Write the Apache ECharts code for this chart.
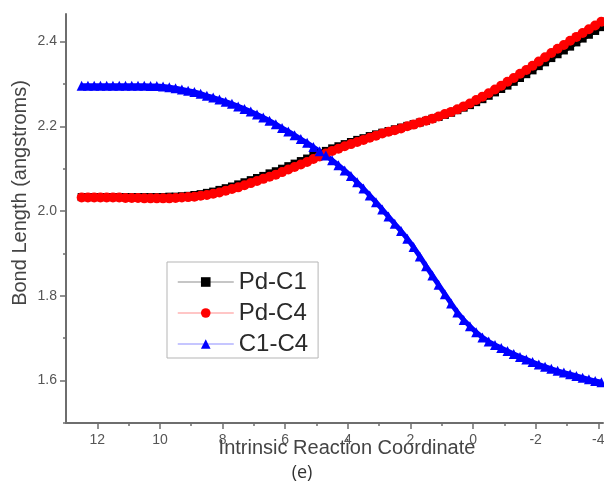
<!DOCTYPE html>
<html>
<head>
<meta charset="utf-8">
<script src="https://cdn.jsdelivr.net/npm/echarts@6/dist/echarts.min.js"></script>
<style>
  html, body { margin: 0; padding: 0; background: #ffffff; }
  #chart { width: 604px; height: 488px; }
</style>
</head>
<body>
<div id="chart"></div>
<script>
// reaction coordinate (x)
const irc = [12.5, 12.3, 12.1, 11.9, 11.7, 11.5, 11.3, 11.1, 10.9, 10.7, 10.5, 10.3, 10.1, 9.9, 9.7,
  9.5, 9.3, 9.1, 8.9, 8.7, 8.5, 8.3, 8.1, 7.9, 7.7, 7.5, 7.3, 7.1, 6.9, 6.7, 6.5, 6.3, 6.1, 5.9, 5.7,
  5.5, 5.3, 5.1, 4.9, 4.7, 4.5, 4.3, 4.1, 3.9, 3.7, 3.5, 3.3, 3.1, 2.9, 2.7, 2.5, 2.3, 2.1, 1.9, 1.7,
  1.5, 1.3, 1.1, 0.9, 0.7, 0.5, 0.3, 0.1, -0.1, -0.3, -0.5, -0.7, -0.9, -1.1, -1.3, -1.5, -1.7, -1.9,
  -2.1, -2.3, -2.5, -2.7, -2.9, -3.1, -3.3, -3.5, -3.7, -3.9, -4.1];

const pdC1 = [2.033, 2.033, 2.033, 2.033, 2.033, 2.033, 2.033, 2.033, 2.033, 2.033, 2.033, 2.033, 2.033, 2.033, 2.034,
  2.034, 2.035, 2.036, 2.038, 2.040, 2.043, 2.046, 2.050, 2.054, 2.058, 2.063, 2.068, 2.073, 2.078, 2.083, 2.089, 2.094, 2.100, 2.106, 2.112,
  2.118, 2.124, 2.130, 2.136, 2.142, 2.148, 2.153, 2.158, 2.163, 2.168, 2.172, 2.177, 2.181, 2.185, 2.189, 2.193, 2.197, 2.201, 2.205, 2.209,
  2.213, 2.218, 2.222, 2.227, 2.232, 2.238, 2.244, 2.250, 2.257, 2.264, 2.272, 2.280, 2.288, 2.296, 2.305, 2.314, 2.323, 2.332,
  2.342, 2.351, 2.361, 2.370, 2.379, 2.388, 2.398, 2.407, 2.416, 2.425, 2.434];

const pdC4 = [2.032, 2.032, 2.032, 2.032, 2.032, 2.032, 2.032, 2.031, 2.031, 2.031, 2.030, 2.030, 2.030, 2.030, 2.030,
  2.031, 2.032, 2.033, 2.034, 2.036, 2.038, 2.041, 2.044, 2.048, 2.052, 2.056, 2.061, 2.066, 2.071, 2.076, 2.081, 2.086, 2.092, 2.098, 2.104,
  2.110, 2.116, 2.123, 2.129, 2.136, 2.142, 2.147, 2.153, 2.158, 2.163, 2.168, 2.173, 2.178, 2.183, 2.187, 2.191, 2.195, 2.200, 2.204, 2.209,
  2.213, 2.218, 2.223, 2.229, 2.234, 2.240, 2.247, 2.254, 2.262, 2.270, 2.278, 2.287, 2.296, 2.305, 2.314, 2.324, 2.333, 2.343,
  2.353, 2.363, 2.373, 2.383, 2.392, 2.402, 2.411, 2.420, 2.429, 2.438, 2.447];

const c1C4 = [2.296, 2.296, 2.296, 2.296, 2.296, 2.296, 2.296, 2.296, 2.296, 2.296, 2.296, 2.295, 2.295, 2.294, 2.292,
  2.290, 2.287, 2.284, 2.281, 2.277, 2.272, 2.268, 2.263, 2.258, 2.253, 2.247, 2.241, 2.235, 2.228, 2.221, 2.213, 2.205, 2.196, 2.188, 2.179,
  2.170, 2.161, 2.151, 2.141, 2.131, 2.120, 2.108, 2.096, 2.083, 2.068, 2.053, 2.037, 2.021, 2.004, 1.987, 1.970, 1.953, 1.935, 1.915, 1.893,
  1.870, 1.848, 1.826, 1.804, 1.782, 1.761, 1.743, 1.728, 1.714, 1.702, 1.692, 1.684, 1.677, 1.670, 1.663, 1.656, 1.650, 1.644,
  1.638, 1.633, 1.628, 1.623, 1.619, 1.615, 1.611, 1.607, 1.603, 1.599, 1.596];

const xMajor = [12, 10, 8, 6, 4, 2, 0, -2, -4];
const xMinor = [11, 9, 7, 5, 3, 1, -1, -3];
const yMajor = [1.6, 1.8, 2.0, 2.2, 2.4];
const yMinor = [1.5, 1.7, 1.9, 2.1, 2.3];

const axisGray = '#6e6e6e';
const labelGray = '#555';

const chart = echarts.init(document.getElementById('chart'));

const pairs = (ys) => irc.map((x, i) => [x, ys[i]]);

const baseX = {
  type: 'value', inverse: true, min: -4.15, max: 13,
  position: 'bottom', offset: 0,
  splitLine: { show: false },
};
const baseY = {
  type: 'value', min: 1.5, max: 2.465,
  position: 'left', offset: 0,
  splitLine: { show: false },
};

chart.setOption({
  backgroundColor: '#ffffff',
  animation: false,
  grid: { left: 66, right: 1, top: 14, bottom: 65, containLabel: false, outerBoundsMode: 'none' },
  xAxis: [
    {
      ...baseX,
      axisLine: { show: true, onZero: false, lineStyle: { color: axisGray, width: 2 } },
      axisTick: { show: true, length: 6, lineStyle: { color: axisGray, width: 1.5 }, customValues: xMajor },
      axisLabel: { show: true, customValues: xMajor, margin: 10, fontFamily: 'Liberation Sans', fontSize: 14, color: labelGray },
    },
    {
      ...baseX,
      axisLine: { show: false, onZero: false },
      axisTick: { show: true, length: 3, lineStyle: { color: axisGray, width: 1.5 }, customValues: xMinor },
      axisLabel: { show: false },
    },
  ],
  yAxis: [
    {
      ...baseY,
      axisLine: { show: true, onZero: false, lineStyle: { color: axisGray, width: 2 } },
      axisTick: { show: true, length: 6, lineStyle: { color: axisGray, width: 1.5 }, customValues: yMajor },
      axisLabel: {
        show: true, customValues: yMajor, margin: 9,
        fontFamily: 'Liberation Sans', fontSize: 14, color: labelGray,
        formatter: (v) => v.toFixed(1),
      },
    },
    {
      ...baseY,
      axisLine: { show: false, onZero: false },
      axisTick: { show: true, length: 3, lineStyle: { color: axisGray, width: 1.5 }, customValues: yMinor },
      axisLabel: { show: false },
    },
  ],
  legend: {
    orient: 'vertical',
    left: 167,
    top: 262,
    padding: [8, 10, 2, 10],
    itemGap: 7,
    itemWidth: 56,
    itemHeight: 12,
    backgroundColor: '#ffffff',
    borderColor: '#b5b5b5',
    borderWidth: 1,
    lineStyle: { width: 1.5, opacity: 0.3 },
    textStyle: { fontFamily: 'Liberation Sans', fontSize: 24, color: '#2a2a2a' },
    data: ['Pd-C1', 'Pd-C4', 'C1-C4'],
  },
  graphic: [
    {
      type: 'text', x: 347, y: 448,
      style: {
        text: 'Intrinsic Reaction Coordinate', fontFamily: 'Liberation Sans', fontSize: 20,
        fill: '#444', align: 'center', verticalAlign: 'middle',
      },
    },
    {
      type: 'text', x: 20, y: 193, rotation: Math.PI / 2,
      style: {
        text: 'Bond Length (angstroms)', fontFamily: 'Liberation Sans', fontSize: 20,
        fill: '#444', align: 'center', verticalAlign: 'middle',
      },
    },
    {
      type: 'text', x: 302, y: 473,
      style: {
        text: '(e)', fontFamily: 'Open Sans', fontSize: 18,
        fill: '#333', align: 'center', verticalAlign: 'middle',
      },
    },
  ],
  series: [
    {
      name: 'Pd-C1', type: 'line', data: pairs(pdC1),
      symbol: 'rect', symbolSize: 8,
      itemStyle: { color: '#000000' },
      lineStyle: { color: '#000000', width: 5 },
    },
    {
      name: 'Pd-C4', type: 'line', data: pairs(pdC4),
      symbol: 'circle', symbolSize: 10,
      itemStyle: { color: '#ff0000' },
      lineStyle: { color: '#ff0000', width: 6 },
    },
    {
      name: 'C1-C4', type: 'line', data: pairs(c1C4),
      symbol: 'triangle', symbolSize: 10,
      itemStyle: { color: '#0000ff' },
      lineStyle: { color: '#0000ff', width: 5 },
    },
  ],
});
</script>
</body>
</html>
